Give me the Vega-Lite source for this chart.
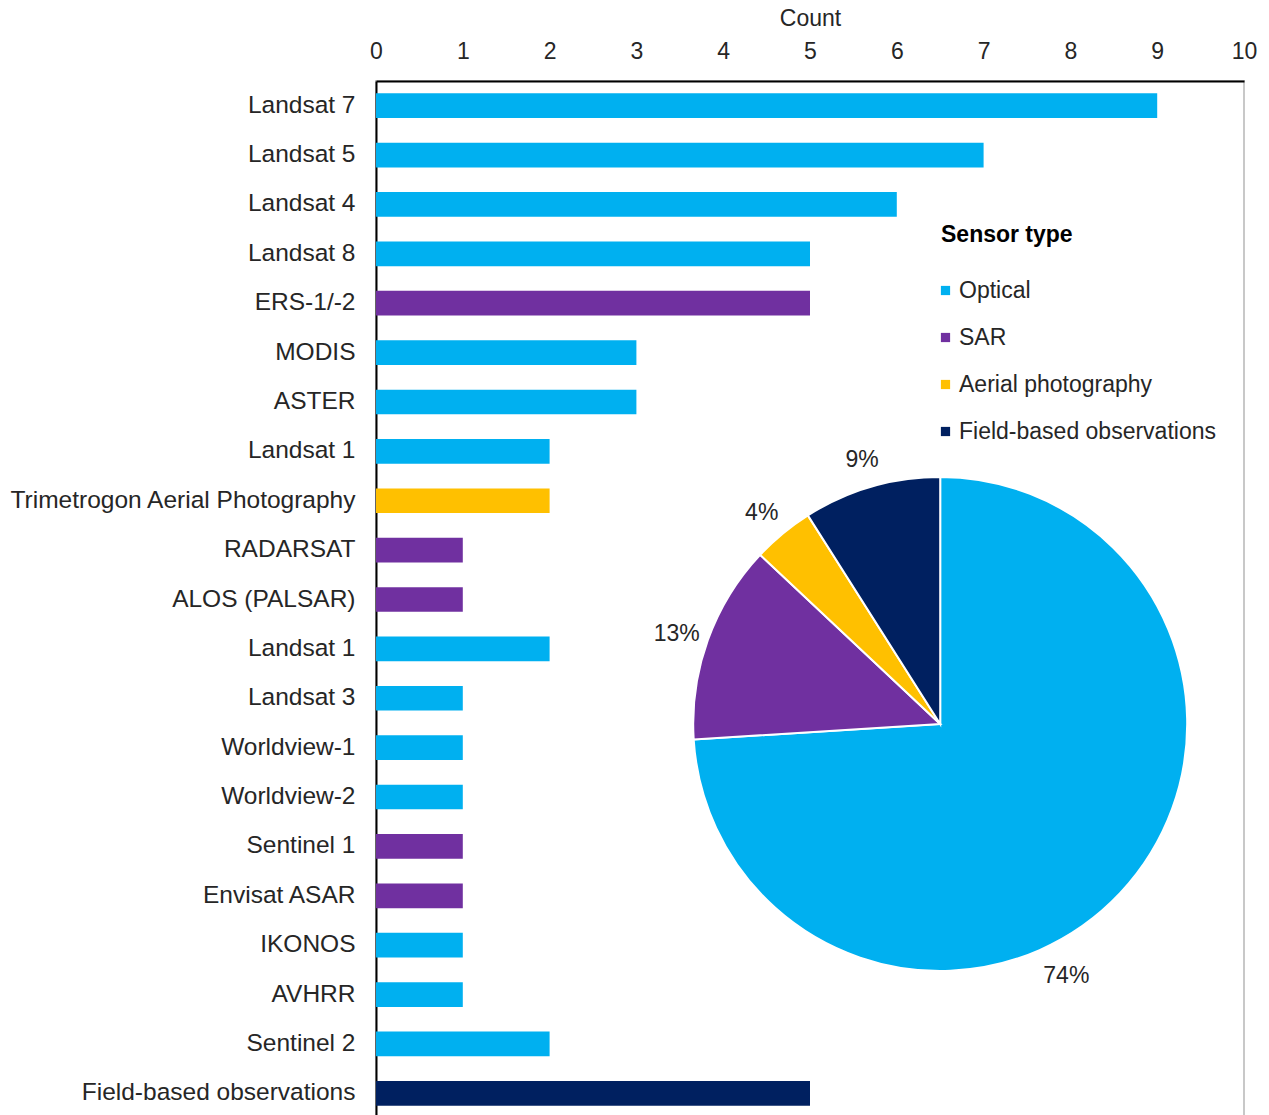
{
  "$schema": "https://vega.github.io/schema/vega-lite/v6.json",
  "autosize": "none",
  "width": 868,
  "height": 1037,
  "padding": {"left": 376, "top": 81, "right": 25, "bottom": 0},
  "background": "white",
  "config": {
    "font": "Liberation Sans",
    "view": {"stroke": "#c8c8c8", "strokeWidth": 2},
    "axis": {"grid": false, "ticks": false, "domainColor": "#000000", "domainWidth": 2, "labelColor": "#262626", "titleColor": "#262626"}
  },
  "datasets": {
    "bars": [
      {"sensor": "Landsat 7", "count": 9, "type": "Optical"},
      {"sensor": "Landsat 5", "count": 7, "type": "Optical"},
      {"sensor": "Landsat 4", "count": 6, "type": "Optical"},
      {"sensor": "Landsat 8", "count": 5, "type": "Optical"},
      {"sensor": "ERS-1/-2", "count": 5, "type": "SAR"},
      {"sensor": "MODIS", "count": 3, "type": "Optical"},
      {"sensor": "ASTER", "count": 3, "type": "Optical"},
      {"sensor": "Landsat 1", "count": 2, "type": "Optical"},
      {"sensor": "Trimetrogon Aerial Photography", "count": 2, "type": "Aerial photography"},
      {"sensor": "RADARSAT", "count": 1, "type": "SAR"},
      {"sensor": "ALOS (PALSAR)", "count": 1, "type": "SAR"},
      {"sensor": "Landsat 1 ", "count": 2, "type": "Optical"},
      {"sensor": "Landsat 3", "count": 1, "type": "Optical"},
      {"sensor": "Worldview-1", "count": 1, "type": "Optical"},
      {"sensor": "Worldview-2", "count": 1, "type": "Optical"},
      {"sensor": "Sentinel 1", "count": 1, "type": "SAR"},
      {"sensor": "Envisat ASAR", "count": 1, "type": "SAR"},
      {"sensor": "IKONOS", "count": 1, "type": "Optical"},
      {"sensor": "AVHRR", "count": 1, "type": "Optical"},
      {"sensor": "Sentinel 2", "count": 2, "type": "Optical"},
      {"sensor": "Field-based observations", "count": 5, "type": "Field-based observations"}
    ],
    "pie": [
      {"type": "Optical", "pct": 74, "label": "74%", "ord": 1},
      {"type": "SAR", "pct": 13, "label": "13%", "ord": 2},
      {"type": "Aerial photography", "pct": 4, "label": "4%", "ord": 3},
      {"type": "Field-based observations", "pct": 9, "label": "9%", "ord": 4}
    ]
  },
  "layer": [
    {
      "data": {"name": "bars"},
      "mark": {"type": "bar"},
      "encoding": {
        "y": {
          "field": "sensor", "type": "nominal", "sort": null,
          "scale": {"paddingInner": 0.5, "paddingOuter": 0.25},
          "axis": {"title": null, "labelFontSize": 24.5, "labelPadding": 21, "labelLimit": 400}
        },
        "x": {
          "field": "count", "type": "quantitative",
          "scale": {"domain": [0, 10], "nice": false},
          "axis": {"orient": "top", "title": "Count", "values": [0,1,2,3,4,5,6,7,8,9,10], "format": "d", "labelFlush": false, "labelFontSize": 23, "labelPadding": 18, "titleFontSize": 23, "titleFontWeight": "normal", "titlePadding": 10}
        },
        "color": {
          "field": "type", "type": "nominal",
          "scale": {"domain": ["Optical", "SAR", "Aerial photography", "Field-based observations"], "range": ["#00B0F0", "#7030A0", "#FFC000", "#002060"]},
          "legend": {"orient": "none", "legendX": 565, "legendY": 143, "title": "Sensor type", "titleFontSize": 23, "titleFontWeight": "bold", "titleColor": "#000000", "labelFontSize": 23, "labelColor": "#262626", "labelLimit": 400, "symbolType": "square", "symbolSize": 85, "symbolStrokeWidth": 0, "symbolOffset": -7, "rowPadding": 23, "titlePadding": 32, "labelOffset": 2}
        }
      }
    },
    {
      "data": {"name": "pie"},
      "encoding": {
        "x": {"datum": 6.5, "type": "quantitative"},
        "y": {"datum": 0.38, "type": "quantitative", "scale": {"domain": [0, 1]}, "axis": null},
        "theta": {"field": "pct", "type": "quantitative", "stack": true},
        "order": {"field": "ord"}
      },
      "layer": [
        {
          "mark": {"type": "arc", "outerRadius": 247, "stroke": "white", "strokeWidth": 2},
          "encoding": {"color": {"field": "type", "type": "nominal"}}
        },
        {
          "mark": {"type": "text", "radius": 280, "fontSize": 23, "fill": "#262626", "dy": 5},
          "encoding": {
            "text": {"field": "label"},
            "opacity": {"condition": {"test": "datum.ord == 1", "value": 0}, "value": 1}
          }
        },
        {
          "mark": {"type": "text", "radius": 280, "fontSize": 23, "fill": "#262626", "dx": -78, "dy": 60},
          "encoding": {
            "text": {"field": "label"},
            "opacity": {"condition": {"test": "datum.ord == 1", "value": 1}, "value": 0}
          }
        }
      ]
    }
  ],
  "resolve": {"scale": {"y": "independent"}}
}
